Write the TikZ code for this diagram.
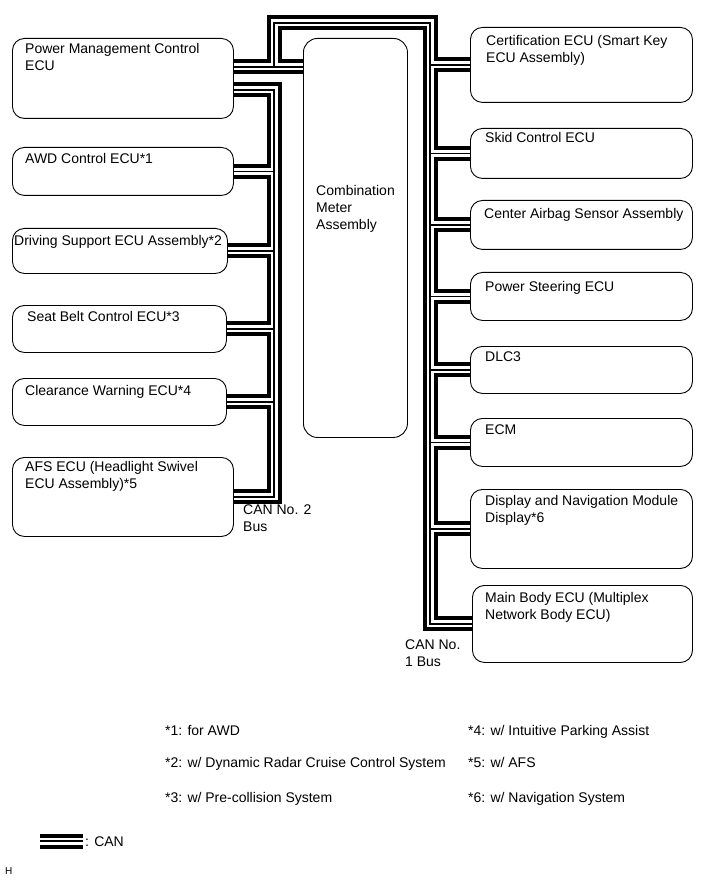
\documentclass[tikz,border=0pt]{standalone}
\usepackage{fontspec}
\setmainfont{Liberation Sans}
\usetikzlibrary{calc}
\tikzset{
  ecu/.style={draw, line width=0.9pt, rounded corners=12pt, anchor=north west, inner sep=0pt},
  txt/.style={anchor=north west, inner sep=0pt, align=left, font=\fontsize{14}{17}\selectfont},
}

\begin{document}
\begin{tikzpicture}[x=1pt, y=-1pt]
	\useasboundingbox (0,0) rectangle (713,882);

	% left side ECUs
	\node[ecu, minimum width=221pt, minimum height=80pt] (pm) at (12,38) {};
	\node[ecu, minimum width=221pt, minimum height=48pt] (awd) at (12,147) {};
	\node[ecu, minimum width=215pt, minimum height=45pt] (dse) at (12,228) {};
	\node[ecu, minimum width=214pt, minimum height=47pt] (sbc) at (12,305) {};
	\node[ecu, minimum width=214pt, minimum height=47pt] (cwe) at (12,378) {};
	\node[ecu, minimum width=221pt, minimum height=79pt] (afs) at (12,457) {};

	\node[txt] (pm-t) at (25,43) {Power Management Control\\ECU};
	\node[txt] (awd-t) at (25,153) {AWD Control ECU*1};
	\node[txt] (dse-t) at (14,235) {Driving Support ECU Assembly*2};
	\node[txt] (sbc-t) at (27,311) {Seat Belt Control ECU*3};
	\node[txt] (cwe-t) at (25,385) {Clearance Warning ECU*4};
	\node[txt] (afs-t) at (25,461) {AFS ECU (Headlight Swivel\\ECU Assembly)*5};

	% meter
	\node[ecu, rounded corners=14pt, minimum width=104pt, minimum height=399pt] (meter) at (303,38) {};
	\node[txt] (meter-t) at (316,185) {Combination\\Meter\\Assembly};

	% right side ECUs
	\node[ecu, minimum width=222pt, minimum height=75pt] (cert) at (470,27) {};
	\node[ecu, minimum width=222pt, minimum height=50pt] (skid) at (470,128) {};
	\node[ecu, minimum width=222pt, minimum height=49pt] (cab) at (470,200) {};
	\node[ecu, minimum width=222pt, minimum height=48pt] (eps) at (470,272) {};
	\node[ecu, minimum width=222pt, minimum height=47pt] (dlc) at (470,346) {};
	\node[ecu, minimum width=222pt, minimum height=48pt] (ecm) at (470,418) {};
	\node[ecu, minimum width=222pt, minimum height=79pt] (disp) at (470,489) {};
	\node[ecu, minimum width=220pt, minimum height=77pt] (main) at (472,585) {};

	\node[txt] (cert-t) at (486,35) {Certification ECU (Smart Key\\ECU Assembly)};
	\node[txt] (skid-t) at (485,132) {Skid Control ECU};
	\node[txt] (cab-t) at (484,208) {Center Airbag Sensor Assembly};
	\node[txt] (eps-t) at (485,281) {Power Steering ECU};
	\node[txt] (dlc-t) at (485,352) {DLC3};
	\node[txt] (ecm-t) at (485,425) {ECM};
	\node[txt] (disp-t) at (485,495) {Display and Navigation Module\\Display*6};
	\node[txt] (main-t) at (485,592) {Main Body ECU (Multiplex\\Network Body ECU)};

	% bus corners
	\coordinate (c1) at (274,23);
	\coordinate (c2) at (430,23);
	\coordinate (j1) at (274,67);
	\coordinate (j2) at (274,90);
	\coordinate (lg1) at (40,841);
	\coordinate (lg2) at (83,841);

	% CAN cables: black, white, black again
	\foreach \w/\c in {15pt/black, 7pt/white, 1.2pt/black} {
		\begin{scope}[line width=\w, color=\c]
			% CAN No. 1
			\draw ($(pm.north east)+(0,29)$) -- ($(meter.north west)+(0,29)$);
			\draw (j1) -- (c1) -- (c2) -- (c2 |- main.west) -- (main.west);
			\foreach \n in {cert,skid,cab,eps,dlc,ecm,disp}
				\draw (\n.west) -- (\n.west -| c2);
			% CAN No. 2
			\draw ($(pm.north east)+(0,52)$) -- (j2) -- (j2 |- afs.east) -- (afs.east);
			\foreach \n in {awd,dse,sbc,cwe}
				\draw (\n.east) -- (\n.east -| c1);
			% legend
			\draw (lg1) -- (lg2);
		\end{scope}
	}

	\node[txt] (bus2-t) at (243,505) {CAN No. 2\\Bus};
	\node[txt] (bus1-t) at (405,640) {CAN No.\\1 Bus};

	% notes
	\node[txt] (n1) at (165,725) {*1: for AWD};
	\node[txt] (n2) at (165,757) {*2: w/ Dynamic Radar Cruise Control System};
	\node[txt] (n3) at (165,792) {*3: w/ Pre-collision System};
	\node[txt] (n4) at (468,725) {*4: w/ Intuitive Parking Assist};
	\node[txt] (n5) at (468,757) {*5: w/ AFS};
	\node[txt] (n6) at (468,792) {*6: w/ Navigation System};

	\node[txt] (lg-t) at (85,837) {: CAN};
	\node[txt, font=\fontsize{10}{12}\selectfont] (h-t) at (5,867) {H};
\end{tikzpicture}
\end{document}
